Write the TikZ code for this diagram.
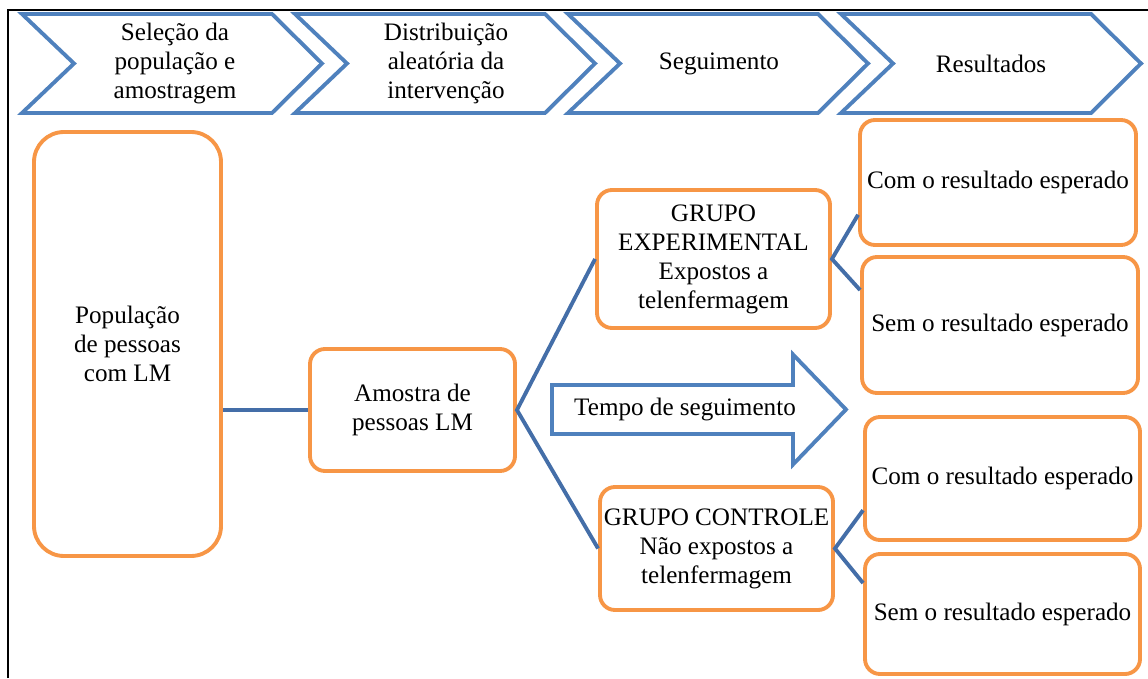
\documentclass[tikz,border=0pt]{standalone}
\usepackage{fontspec}
\setmainfont{Liberation Serif}
\usepackage{tikz}
\usetikzlibrary{positioning,calc}

\definecolor{chevblue}{RGB}{79,129,189}
\definecolor{linkblue}{RGB}{68,110,168}
\definecolor{boxorange}{RGB}{247,150,70}

\tikzset{
  txt/.style={font=\fontsize{14.3}{16.5}\selectfont,align=center,inner sep=0pt},
  chev/.style={draw=chevblue,line width=2.2pt,fill=white,line join=miter},
  obox/.style={txt,draw=boxorange,line width=2.2pt,rounded corners=0.3cm,fill=white},
  link/.style={draw=linkblue,line width=2.2pt}
}

\begin{document}
\begin{tikzpicture}
      \useasboundingbox (0,0) rectangle (22.96,13.56);
      \draw[line width=1pt] (0.16,0) -- (0.16,13.36) -- (22.96,13.36);

      % phases
      \draw[chev] (0.44,13.28) -- ++(5,0) -- ++(1,-0.99) -- ++(-1,-0.99) -- ++(-5,0) -- ++(1.04,0.99) -- cycle;
      \draw[chev] (5.90,13.28) -- ++(5,0) -- ++(1,-0.99) -- ++(-1,-0.99) -- ++(-5,0) -- ++(1.04,0.99) -- cycle;
      \draw[chev] (11.36,13.28) -- ++(5,0) -- ++(1,-0.99) -- ++(-1,-0.99) -- ++(-5,0) -- ++(1.04,0.99) -- cycle;
      \draw[chev] (16.82,13.28) -- ++(5,0) -- ++(1,-0.99) -- ++(-1,-0.99) -- ++(-5,0) -- ++(1.04,0.99) -- cycle;

      \node[txt] (fase1) at (3.50,12.29) {Seleção da\\população e\\amostragem};
      \node[txt] (fase2) at (8.92,12.29) {Distribuição\\aleatória da\\intervenção};
      \node[txt] (fase3) at (14.38,12.29) {Seguimento};
      \node[txt] (fase4) at (19.82,12.29) {Resultados};

      % boxes
      \node[obox,rounded corners=0.6cm,minimum width=3.74cm,minimum height=8.48cm] (pop) at (2.55,6.68) {População\\de pessoas\\com LM};
      \node[obox,minimum width=4.10cm,minimum height=2.44cm] (amostra) at (8.25,5.36) {Amostra de\\pessoas LM};
      \node[obox,minimum width=4.66cm,minimum height=2.76cm] (exp) at (14.27,8.38) {GRUPO\\EXPERIMENTAL\\Expostos a\\telenfermagem};
      \node[obox,minimum width=4.66cm,minimum height=2.46cm] (ctrl) at (14.33,2.59) {GRUPO CONTROLE\\Não expostos a\\telenfermagem};

      \node[obox,minimum width=5.52cm,minimum height=2.50cm] (res1) at (19.96,9.91) {Com o resultado esperado};
      \node[obox,minimum width=5.52cm,minimum height=2.72cm] (res2) at (20.00,7.06) {Sem o resultado esperado};
      \node[obox,minimum width=5.50cm,minimum height=2.46cm] (res3) at (20.05,3.99) {Com o resultado esperado};
      \node[obox,minimum width=5.50cm,minimum height=2.40cm] (res4) at (20.05,1.28) {Sem o resultado esperado};

      % follow-up arrow
      \draw[chev] (11.04,5.86) -- (15.86,5.86) -- (15.86,6.47) -- (16.92,5.37) -- (15.86,4.27) -- (15.86,4.88) -- (11.04,4.88) -- cycle;
      \node[txt] (tempo) at (13.70,5.37) {Tempo de seguimento};

      % connectors
      \draw[link] (amostra.west) -- (amostra.west -| pop.east);
      \draw[link] (exp.west) -- (amostra.east) -- (ctrl.west);
      \draw[link] ($(res1.west)!0.5!(res1.south west)$) -- (exp.east) -- ($(res2.west)!0.5!(res2.north west)$);
      \draw[link] ($(res3.west)!0.5!(res3.south west)$) -- (ctrl.east) -- ($(res4.west)!0.5!(res4.north west)$);
    \end{tikzpicture}
\end{document}
